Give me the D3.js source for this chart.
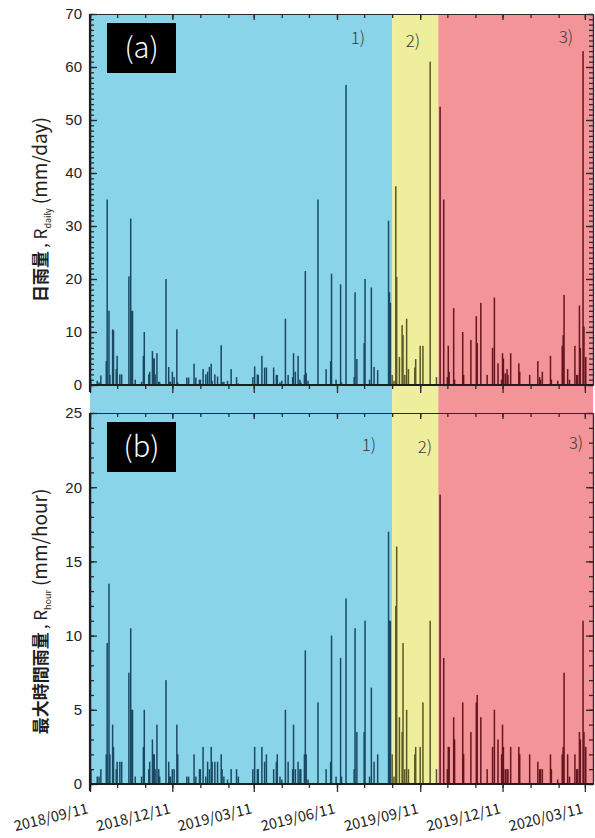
<!DOCTYPE html>
<html>
<head>
<meta charset="utf-8">
<script src="https://cdn.jsdelivr.net/npm/d3@7"></script>
<style>
  body { margin: 0; background: #fff; }
  svg { display: block; }
</style>
</head>
<body>
<svg width="595" height="838"></svg>
<script>
// days counted from 2018/09/11
var startDate = new Date(2018, 8, 11),
    endDate = new Date(2020, 2, 20);

var dayOffset = [
  1,8,10,12,18,19,21,22,25,26,29,30,33,35,43,45,46,47,50,57,59,60,65,66,69,70,71,72,74,76,77,84,87,88,89,91,93,96,97,107,109,115,117,121,122,125,128,130,132,134,135,138,141,145,146,148,152,156,162,164,180,182,185,
  186,190,193,195,203,206,207,210,212,216,219,224,225,227,230,232,233,237,238,239,241,252,261,266,267,272,277,278,283,292,293,295,303,304,309,311,314,318,330,331,332,334,
  336,338,339,342,345,346,348,350,352,359,360,365,368,376,383,
  387,391,395,396,397,402,403,412,413,421,427,428,432,439,445,447,451,455,456,457,459,461,462,465,474,475,486,495,497,498,500,509,510,517,522,523,524,528,530,536,538,539,541,542,545,546,548
];

// 日雨量 (mm/day)
var dailyRain = [
  0.8,0.8,0.5,1.8,4.5,35,14,1.9,10.5,10.3,3.0,5.5,2.0,2.0,20.5,31.4,14,14,1.0,0.6,5.5,10,2.0,2.5,6.4,5.0,5.0,2.0,6.0,0.6,0.6,20,3.4,0.6,0.6,2.5,1.5,10.5,0.5,1.4,1.4,4.0,1.4,1.0,1.0,3.0,2.0,2.5,3.4,4.0,0.8,2.0,1.6,7.5,0.6,0.6,0.8,3.0,1.5,0.3,1.5,3.5,2.0,
  1.9,5.5,3.3,3.3,3.3,1.9,1.9,0.5,0.8,12.5,1.9,1.5,6.0,2.5,5.5,1.0,0.5,1.9,21.5,2.3,0.8,35,3.0,4.5,21,1.0,19,0.5,56.6,1.5,17.5,4.9,7.9,20,1.0,18.4,3.4,2.8,31,17.5,15.5,1.9,
  0.8,37.5,20.4,5.3,11.3,9.4,1.9,12.5,3.0,3.3,4.9,7.4,7.4,61,1.5,
  52.5,35,1.5,7.4,2.5,14.5,1.0,10,1.9,8.5,13,7.9,15.5,1.9,7,16.5,4.1,1.0,6,5,2.2,3,1.9,6,4.1,2.5,1.9,4.5,1.5,1.0,2.5,5.5,1.0,0.8,7.4,9.4,17,3,1.0,7.4,1.9,1.9,15,7,63,11,5.3
];

// 最大時間雨量 (mm/hour)
var hourRain = [
  1.0,0.5,0.5,1.0,2.0,9.5,13.5,2.0,4.0,2.5,1.0,1.5,1.5,1.5,7.5,10.5,5.0,5.0,0.5,0.5,2.5,5.0,1.0,1.5,3.0,2.0,2.0,1.0,4.0,1.0,0.5,7.0,1.5,0.5,0.5,1.0,1.0,4.0,2.0,0.5,0.5,2.0,0.5,1.0,1.0,2.5,0.5,1.5,1.0,2.5,1.5,1.5,1.5,2.0,1.0,0.5,0.3,1.0,1.0,0.5,1.0,2.5,1.0,
  1.0,2.5,1.5,2.0,1.0,1.5,2.0,0.5,0.3,5.0,1.5,1.0,4.0,1.0,1.5,1.0,1.0,2.0,9.0,2.0,0.3,5.5,1.0,1.5,10.0,0.5,8.5,0.5,12.5,1.0,10.5,3.5,3.5,11.0,0.5,6.5,1.5,2.0,17,11,11,2.0,
  0.5,12,16,4.5,3.5,9.5,1.0,5.0,1.0,2.0,2.5,2.5,5.5,11,1.0,
  19.5,8.5,1.0,2.5,2.5,4.5,3.0,5.5,2.0,3.5,5.5,6.0,4.5,1.0,2.5,5.0,3.0,2.0,4.0,2.5,1.0,1.0,1.0,2.5,2.5,2.0,2.0,1.5,1.0,1.0,1.0,2.0,1.0,0.3,2.0,2.5,7.5,2.0,0.5,2.0,1.0,1.0,3.5,3.0,11,3.5,2.5
];

// periods 1) 2) 3)
var periodNames = ["1)", "2)", "3)"];
var periodStart = [new Date(2018, 8, 11), new Date(2019, 7, 11), new Date(2019, 9, 1)];
var periodEnd = [new Date(2019, 7, 11), new Date(2019, 9, 1), endDate];
var periodFill = ["#8ad4ea", "#eeee9c", "#f39499"];
var periodBar = ["#1b4962", "#5c5829", "#661620"];

var xTickLabels = ["2018/09/11", "2018/12/11", "2019/03/11", "2019/06/11", "2019/09/11", "2019/12/11", "2020/03/11"];

var svg = d3.select("svg");
var left = 90, right = 593;

var x = d3.scaleTime().domain([startDate, endDate]).range([left, right]);

var yA = d3.scaleLinear().domain([0, 70]).range([385, 14]);
var yB = d3.scaleLinear().domain([0, 25]).range([784, 413]);

var rows = dayOffset.map(function(d, i) {
  return { date: d3.timeDay.offset(startDate, d), daily: dailyRain[i], hour: hourRain[i] };
});

function periodOf(date) {
  for (var i = 0; i < periodStart.length; i++) {
    if (date < periodEnd[i]) return i;
  }
  return periodStart.length - 1;
}

// background bands, continuous across both panels
svg.selectAll(".band")
    .data(periodNames)
  .enter().append("rect")
    .attr("class", "band")
    .attr("x", function(d, i) { return x(periodStart[i]); })
    .attr("width", function(d, i) { return x(periodEnd[i]) - x(periodStart[i]); })
    .attr("y", yA(70))
    .attr("height", yB(0) - yA(70))
    .attr("fill", function(d, i) { return periodFill[i]; });

var monthTicks = d3.range(0, 19).map(function(i) { return new Date(2018, 8 + i, 11); });
var majorTicks = monthTicks.filter(function(d, i) { return i % 3 === 0; });

function panel(y, key, yMax, yMajor, tag, title, sub, unit, lay) {
  var top = y(yMax), bottom = y(0);
  var g = svg.append("g");

  g.selectAll(".bar")
      .data(rows.filter(function(d) { return d[key] > 0; }))
    .enter().append("rect")
      .attr("x", function(d) { return x(d.date) - 0.75; })
      .attr("width", 1.5)
      .attr("y", function(d) { return y(d[key]); })
      .attr("height", function(d) { return bottom - y(d[key]); })
      .attr("fill", function(d) { return periodBar[periodOf(d.date)]; });

  var minorY = d3.range(0, yMax + 1, 1);
  var majorY = d3.range(0, yMax + 1, yMajor);

  // left & right ticks point inward
  g.append("g").attr("transform", "translate(" + left + ",0)")
      .call(d3.axisRight(y).tickValues(minorY).tickSize(4).tickSizeOuter(0).tickFormat(""));
  g.append("g").attr("transform", "translate(" + left + ",0)")
      .call(d3.axisRight(y).tickValues(majorY).tickSize(7).tickSizeOuter(0).tickFormat(""));
  g.append("g").attr("transform", "translate(" + right + ",0)")
      .call(d3.axisLeft(y).tickValues(minorY).tickSize(4).tickSizeOuter(0).tickFormat(""));
  g.append("g").attr("transform", "translate(" + right + ",0)")
      .call(d3.axisLeft(y).tickValues(majorY).tickSize(7).tickSizeOuter(0).tickFormat(""));

  // top ticks inward, bottom ticks outward
  g.append("g").attr("transform", "translate(0," + top + ")")
      .call(d3.axisBottom(x).tickValues(monthTicks).tickSize(4).tickSizeOuter(0).tickFormat(""));
  g.append("g").attr("transform", "translate(0," + top + ")")
      .call(d3.axisBottom(x).tickValues(majorTicks).tickSize(6).tickSizeOuter(0).tickFormat(""));
  g.append("g").attr("transform", "translate(0," + bottom + ")")
      .call(d3.axisBottom(x).tickValues(monthTicks).tickSize(4).tickSizeOuter(0).tickFormat(""));
  g.append("g").attr("transform", "translate(0," + bottom + ")")
      .call(d3.axisBottom(x).tickValues(majorTicks).tickSize(8).tickSizeOuter(0).tickFormat(""));

  g.selectAll(".domain").attr("stroke", "#2a2a2a").attr("stroke-width", 1.2);
  g.selectAll(".tick line").attr("stroke", "#2a2a2a").attr("stroke-width", 1.3);

  // heavier left spine reaching below zero
  g.append("line")
      .attr("x1", left).attr("x2", left)
      .attr("y1", top).attr("y2", bottom + 7)
      .attr("stroke", "#1e1e1e").attr("stroke-width", 2.2);
  g.append("line")
      .attr("x1", left).attr("x2", right)
      .attr("y1", bottom).attr("y2", bottom)
      .attr("stroke", "#1e1e1e").attr("stroke-width", 1.8);

  g.selectAll(".ylab")
      .data(majorY)
    .enter().append("text")
      .attr("x", left - 8)
      .attr("y", function(d) { return y(d); })
      .attr("dy", "0.36em")
      .attr("text-anchor", "end")
      .style("font-family", "Liberation Sans, Arial, sans-serif")
      .style("font-size", "15px")
      .attr("fill", "#222")
      .text(function(d) { return d; });

  // panel tag
  g.append("rect")
      .attr("x", 107).attr("y", top + 9)
      .attr("width", 69).attr("height", 50)
      .attr("fill", "#000");
  g.append("text")
      .attr("x", 141.5).attr("y", top + 34)
      .attr("dy", "0.36em")
      .attr("text-anchor", "middle")
      .style("font-family", "Noto Sans CJK JP, sans-serif")
      .style("font-weight", 300)
      .style("font-size", "29px")
      .attr("fill", "#fff")
      .text(tag);

  // period labels
  g.selectAll(".plab")
      .data(periodNames)
    .enter().append("text")
      .attr("x", function(d, i) { return lay.xs[i]; })
      .attr("y", function(d, i) { return top + lay.ys[i]; })
      .attr("dy", "0.36em")
      .attr("text-anchor", "middle")
      .style("font-family", "Noto Sans CJK JP, sans-serif")
      .style("font-weight", 300)
      .style("font-size", "17px")
      .attr("fill", "#3a3a3a")
      .text(function(d) { return d; });

  // y title
  var t = g.append("text")
      .attr("transform", "translate(47," + ((top + bottom) / 2 + lay.ty) + ") rotate(-90)")
      .attr("text-anchor", "middle")
      .style("font-family", "Noto Sans CJK JP, sans-serif")
      .attr("fill", "#1e1e1e");
  t.append("tspan").style("font-size", "17px").style("font-weight", 700).text(title);
  t.append("tspan").style("font-size", "17px").attr("dx", 3).text(",  R");
  t.append("tspan").style("font-size", "9px").attr("dy", 4).text(sub);
  t.append("tspan").style("font-size", "19px").attr("dy", -4).attr("dx", 4).text(unit);

  return g;
}

panel(yA, "daily", 70, 10, "(a)", "日雨量", "daily", "(mm/day)",
  { xs: [358, 413, 566], ys: [24, 27, 23], ty: 10 });
panel(yB, "hour", 25, 5, "(b)", "最大時間雨量", "hour", "(mm/hour)",
  { xs: [369, 425, 576], ys: [32, 34, 30], ty: 13 });

// date labels under the lower panel
svg.selectAll(".xlab")
    .data(majorTicks)
  .enter().append("text")
    .attr("transform", function(d) { return "translate(" + (x(d) - 1) + ",813) rotate(-14)"; })
    .attr("text-anchor", "end")
    .style("font-family", "Noto Sans CJK JP, sans-serif")
    .style("font-size", "14.5px")
    .attr("fill", "#222")
    .text(function(d, i) { return xTickLabels[i]; });
</script>
</body>
</html>
